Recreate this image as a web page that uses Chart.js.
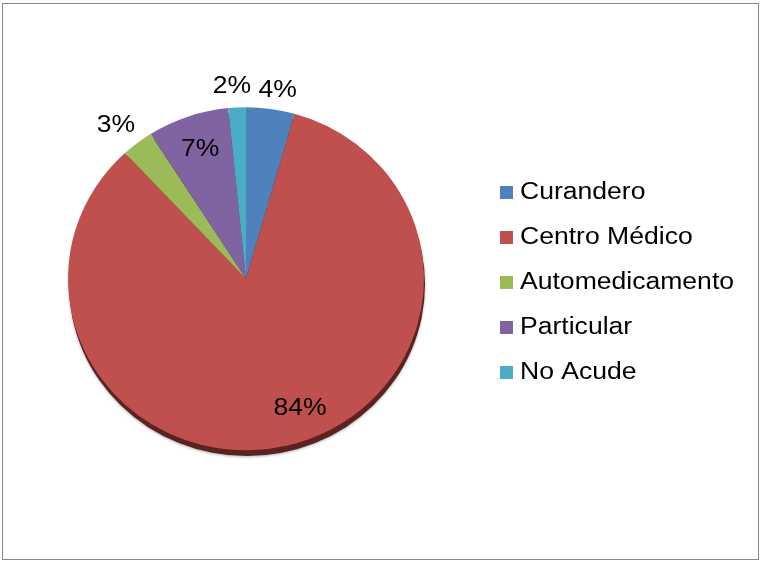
<!DOCTYPE html>
<html>
<head>
<meta charset="utf-8">
<script src="https://cdn.jsdelivr.net/npm/chart.js@4"></script>
<style>
  body { margin: 0; background: #fff; }
  #chart { display: block; }
</style>
</head>
<body>
<canvas id="chart" width="761" height="562"></canvas>
<script>
const categories = ["Curandero", "Centro Médico", "Automedicamento", "Particular", "No Acude"];
const values = [4.4, 83.7, 2.9, 7.4, 1.6];
const value_labels = ["4%", "84%", "3%", "7%", "2%"];
const colors = ["#4F81BD", "#C0504D", "#9BBB59", "#8064A2", "#4BACC6"];

// where each percent label sits: fraction of radius, and angle shift in degrees
const label_radius = [1.12, 0.81, 1.16, 0.80, 1.13];
const label_shift = [1.2, -8.5, -1.4, 0.3, -1.1];

const font_family = "'Liberation Sans', Arial, sans-serif";
const text_stretch = 1.13;   // text in the picture is a bit wider than tall
const pie_squash = 0.9635;   // pie is slightly flatter than a circle

function stretched_text(ctx, text, x, y, align) {
  ctx.save();
  ctx.translate(x, y);
  ctx.scale(text_stretch, 1);
  ctx.textAlign = align;
  ctx.fillText(text, 0, 0);
  ctx.restore();
}

const frame_plugin = {
  id: 'frame',
  beforeDraw(chart) {
    const ctx = chart.ctx;
    ctx.save();
    ctx.fillStyle = '#fff';
    ctx.fillRect(0, 0, chart.width, chart.height);
    ctx.strokeStyle = '#868686';
    ctx.lineWidth = 1;
    ctx.strokeRect(2.5, 3.5, 756, 556);
    ctx.restore();
  }
};

const squash_plugin = {
  id: 'pieSquash',
  beforeDatasetsDraw(chart) {
    const arc = chart.getDatasetMeta(0).data[0];
    const ctx = chart.ctx;
    ctx.save();
    ctx.translate(0, arc.y);
    ctx.scale(1, pie_squash);
    ctx.translate(0, -arc.y);
    // shadow under the pie
    ctx.save();
    ctx.beginPath();
    ctx.arc(arc.x + 1, arc.y + 6, arc.outerRadius, 0, Math.PI * 2);
    ctx.fillStyle = '#5a2220';
    ctx.shadowColor = 'rgba(0,0,0,0.3)';
    ctx.shadowBlur = 3;
    ctx.shadowOffsetY = 1;
    ctx.fill();
    ctx.restore();
  },
  afterDatasetsDraw(chart) {
    chart.ctx.restore();
  }
};

const labels_plugin = {
  id: 'sliceLabels',
  afterDatasetsDraw(chart) {
    const ctx = chart.ctx;
    const meta = chart.getDatasetMeta(0);
    ctx.save();
    ctx.font = '23.5px ' + font_family;
    ctx.fillStyle = '#000';
    ctx.textBaseline = 'middle';
    meta.data.forEach(function(arc, i) {
      const mid = (arc.startAngle + arc.endAngle) / 2 + label_shift[i] * Math.PI / 180;
      const r = arc.outerRadius * label_radius[i];
      stretched_text(ctx, value_labels[i], arc.x + Math.cos(mid) * r, arc.y + Math.sin(mid) * r * pie_squash + 1, 'center');
    });
    ctx.restore();
  }
};

const legend_plugin = {
  id: 'sideLegend',
  afterDraw(chart) {
    const ctx = chart.ctx;
    ctx.save();
    ctx.font = '23.5px ' + font_family;
    ctx.textBaseline = 'middle';
    for (let i = 0; i < categories.length; i++) {
      const y = 192 + i * 45;
      ctx.fillStyle = colors[i];
      ctx.fillRect(500, y - 6, 13, 13);
      ctx.fillStyle = '#000';
      stretched_text(ctx, categories[i], 520, y + 1, 'left');
    }
    ctx.restore();
  }
};

const ctx = document.getElementById('chart').getContext('2d');
const chart = new Chart(ctx, {
  type: 'pie',
  data: {
    labels: categories,
    datasets: [{
      data: values,
      backgroundColor: colors,
      borderWidth: 0
    }]
  },
  options: {
    responsive: false,
    animation: false,
    layout: { padding: { left: 68, right: 337, top: 100.5, bottom: 105 } },
    plugins: {
      legend: { display: false },
      tooltip: { enabled: false }
    }
  },
  plugins: [frame_plugin, squash_plugin, labels_plugin, legend_plugin]
});
</script>
</body>
</html>
